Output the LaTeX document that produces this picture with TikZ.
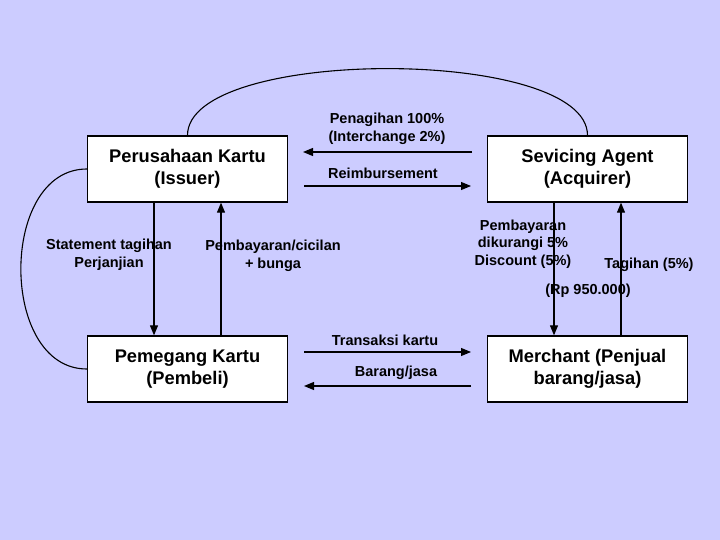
\documentclass[tikz,border=0pt]{standalone}
\usepackage{fontspec}
\setmainfont{Liberation Sans}
\usetikzlibrary{arrows.meta,calc}
\definecolor{bg}{HTML}{CCCCFF}
\begin{document}
\begin{tikzpicture}[x=1pt,y=-1pt,
 box/.style={draw=black,line width=1.3pt,fill=white,minimum width=200pt,minimum height=66pt,inner sep=0pt,align=center,font=\bfseries\fontsize{18.3}{22}\selectfont},
 lbl/.style={align=center,font=\bfseries\fontsize{14.5}{17.5}\selectfont,inner sep=0pt},
 arr/.style={line width=1.1pt,-{Triangle[length=10pt,width=8pt]}},
 crv/.style={line width=1.1pt}]
\fill[bg] (0,0) rectangle (720,540);
\useasboundingbox (0,0) rectangle (720,540);

\node[box] (iss) at (187.5,169) {Perusahaan Kartu\\(Issuer)};
\node[box] (acq) at (587.5,169) {Sevicing Agent\\(Acquirer)};
\node[box] (pem) at (187.5,369) {Pemegang Kartu\\(Pembeli)};
\node[box] (mer) at (587.5,369) {Merchant (Penjual\\barang/jasa)};

% curves
\draw[crv] (iss.north) .. controls +(0,-89) and +(0,-89) .. (acq.north);
\draw[crv] (iss.west) .. controls +(-88,0) and +(-88,0) .. (pem.west);

% horizontal arrow end points
\coordinate (p1) at (472,152); \coordinate (p2) at (303,152);
\coordinate (r1) at (304,186); \coordinate (r2) at (471,186);
\coordinate (t1) at (304,352); \coordinate (t2) at (471,352);
\coordinate (b1) at (471,386); \coordinate (b2) at (304,386);
\draw[arr] (p1) -- (p2);
\draw[arr] (r1) -- (r2);
\draw[arr] (t1) -- (t2);
\draw[arr] (b1) -- (b2);

% vertical arrows
\coordinate (xs) at (154,0); \coordinate (xb) at (221,0);
\coordinate (xd) at (554,0); \coordinate (xt) at (621,0);
\draw[arr] (iss.south -| xs) -- (pem.north -| xs);
\draw[arr] (pem.north -| xb) -- (iss.south -| xb);
\draw[arr] (acq.south -| xd) -- (mer.north -| xd);
\draw[arr] (mer.north -| xt) -- (acq.south -| xt);

% labels
\node[lbl] (lpen) at (387,129) {Penagihan 100\%\\(Interchange 2\%)};
\node[lbl] (lrei) at (383,173) {Reimbursement};
\node[lbl] (lstm) at (109,255) {Statement tagihan\\Perjanjian};
\node[lbl] (lbay) at (273,256) {Pembayaran/cicilan\\+ bunga};
\node[lbl] (ldis) at (523,244) {Pembayaran\\dikurangi 5\%\\Discount (5\%)};
\node[lbl] (ltag) at (649,265) {Tagihan (5\%)};
\node[lbl] (lrp) at (588,291) {(Rp 950.000)};
\node[lbl] (ltrx) at (385,340) {Transaksi kartu};
\node[lbl] (lbrg) at (396,373) {Barang/jasa};
\end{tikzpicture}
\end{document}
